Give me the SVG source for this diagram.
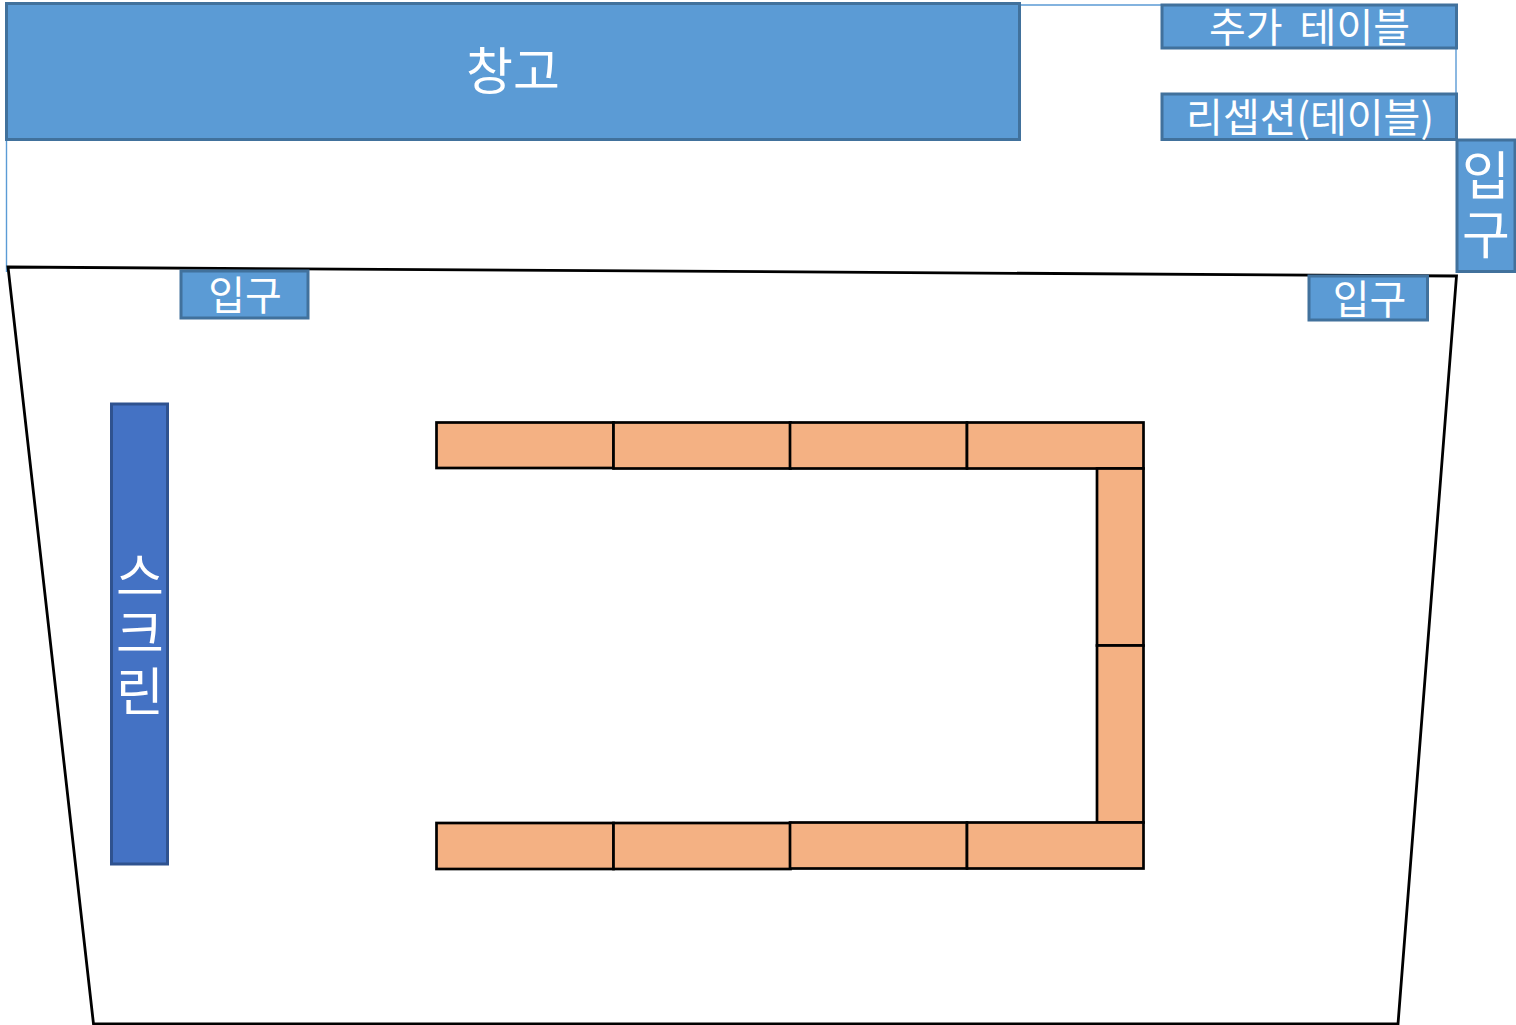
<svg xmlns="http://www.w3.org/2000/svg" width="1516" height="1025" viewBox="0 0 1516 1025">
<style>
.b{fill:#5b9bd5;stroke:#41719c;stroke-width:3}
.s{fill:#4472c4;stroke:#2f528f;stroke-width:3}
.o{fill:#f4b183;stroke:#000;stroke-width:2.700}
.l{fill:none;stroke:#5b9bd5;stroke-width:1.400}
.t{fill:#fff;font-family:"Noto Sans CJK KR","Liberation Sans",sans-serif;text-anchor:middle;font-weight:400}
</style>
<rect width="1516" height="1025" fill="#fff"/>
<g id="connectors">
<path class="l" d="M1020 5H1162M1456 48V94M6.500 140V272"/>
</g>
<g id="room"><path d="M8 267L1456.500 276L1398 1024H93.500Z" fill="#fff" stroke="#000" stroke-width="2.800"/></g>
<g id="storage"><rect class="b" x="6.500" y="3.500" width="1013" height="136"/><text class="t" x="513" y="90" font-size="51">창고</text></g>
<g id="extra-table"><rect class="b" x="1162" y="5" width="294.500" height="43"/><text class="t" x="1309.500" y="42" font-size="40" word-spacing="8">추가 테이블</text></g>
<g id="reception"><rect class="b" x="1162" y="94" width="294.500" height="45.500"/><text class="t" x="1310" y="132" font-size="40">리셉션(테이블)</text></g>
<g id="entrance-right"><rect class="b" x="1457" y="140" width="58" height="131.500"/><text class="t" font-size="52"><tspan x="1486" y="195">입</tspan><tspan x="1486" y="254">구</tspan></text></g>
<g id="entrance-left"><rect class="b" x="181" y="271" width="127" height="47"/><text class="t" x="245" y="310" font-size="40">입구</text></g>
<g id="entrance-mid"><rect class="b" x="1309" y="276" width="118.500" height="44"/><text class="t" x="1369.500" y="314" font-size="40">입구</text></g>
<g id="screen"><rect class="s" x="111.500" y="404" width="56" height="460"/><text class="t" font-size="52"><tspan x="140" y="596">스</tspan><tspan x="140" y="653">크</tspan><tspan x="140" y="711">린</tspan></text></g>
<g id="tables">
<rect class="o" x="436.500" y="422.500" width="177" height="45.500"/>
<rect class="o" x="613.500" y="422.500" width="177" height="46"/>
<rect class="o" x="790" y="422.500" width="177" height="46"/>
<rect class="o" x="967" y="422.500" width="176.500" height="46"/>
<rect class="o" x="1097" y="468.500" width="46.500" height="177"/>
<rect class="o" x="1097" y="645.500" width="46.500" height="177"/>
<rect class="o" x="436.500" y="823" width="177" height="46"/>
<rect class="o" x="613.500" y="823" width="177" height="46"/>
<rect class="o" x="790" y="822.500" width="177" height="46"/>
<rect class="o" x="967" y="822.500" width="176.500" height="46"/>
</g>
</svg>
